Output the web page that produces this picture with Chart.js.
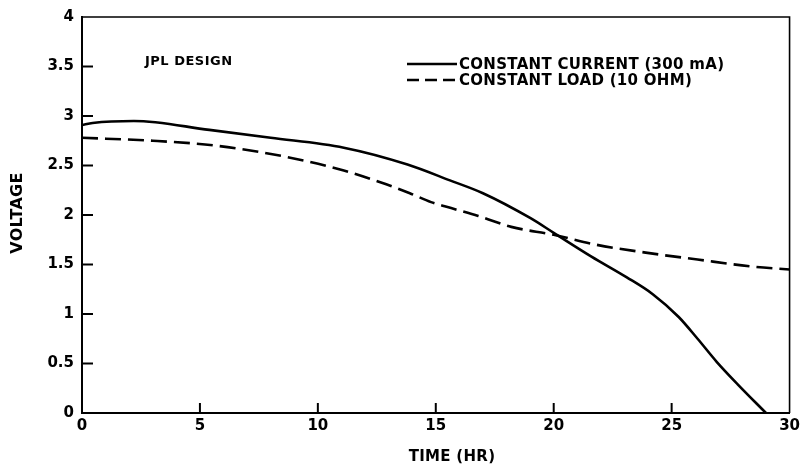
<!DOCTYPE html>
<html><head><meta charset="utf-8">
<script src="https://cdn.jsdelivr.net/npm/chart.js@4.4.0/dist/chart.umd.min.js"></script>
<style>html,body{margin:0;padding:0;background:#fff}#wrap{width:804px;height:464px}</style>
</head><body><div id="wrap"><canvas id="c" width="804" height="464"></canvas></div>
<script>
// ---- data ----
const timeCurrent = [0, 0.45, 2.2, 5.4, 8.0, 11.1, 13.8, 15.6, 17.0, 19.0, 20.0, 21.6, 23.1, 24.2, 25.3, 26.1, 26.9, 27.8, 29.0];
const voltCurrent = [2.91, 2.93, 2.95, 2.86, 2.78, 2.68, 2.51, 2.35, 2.22, 1.97, 1.82, 1.58, 1.37, 1.20, 0.97, 0.75, 0.52, 0.29, 0.00];
const timeLoad = [0, 3.0, 5.7, 8.6, 11.1, 12.9, 13.9, 14.8, 15.65, 16.8, 18.2, 20.0, 21.8, 23.9, 26.1, 28.4, 30];
const voltLoad = [2.78, 2.75, 2.70, 2.59, 2.45, 2.31, 2.22, 2.13, 2.07, 1.99, 1.88, 1.80, 1.70, 1.62, 1.55, 1.48, 1.45];
const xTickLabels = ['0', '5', '10', '15', '20', '25', '30'];
const yTickLabels = ['0', '0.5', '1', '1.5', '2', '2.5', '3', '3.5', '4'];
const seriesNames = ['CONSTANT CURRENT (300 mA)', 'CONSTANT LOAD (10 OHM)'];
const noteText = 'JPL DESIGN';
const xTitle = 'TIME (HR)';
const yTitle = 'VOLTAGE';

const FONT = '"DejaVu Sans", "Liberation Sans", Arial, sans-serif';
const pts = (xs, ys) => xs.map((v, i) => ({x: v, y: ys[i]}));

const decor = {
  id: 'decor',
  afterDraw(chart) {
    const {ctx, chartArea: a, scales: {x, y}} = chart;
    ctx.save();
    ctx.strokeStyle = '#000';
    ctx.fillStyle = '#000';
    // top and right frame
    ctx.lineWidth = 1.6;
    ctx.beginPath();
    ctx.moveTo(a.left, a.top); ctx.lineTo(a.right, a.top); ctx.lineTo(a.right, a.bottom);
    ctx.stroke();
    // inward tick marks
    ctx.lineWidth = 2;
    x.ticks.forEach(t => {
      if (t.value <= x.min || t.value >= x.max) return;
      const px = x.getPixelForValue(t.value);
      ctx.beginPath(); ctx.moveTo(px, a.bottom); ctx.lineTo(px, a.bottom - 10); ctx.stroke();
    });
    y.ticks.forEach(t => {
      if (t.value <= y.min || t.value >= y.max) return;
      const py = y.getPixelForValue(t.value);
      ctx.beginPath(); ctx.moveTo(a.left, py); ctx.lineTo(a.left + 11, py); ctx.stroke();
    });
    // note
    ctx.font = 'bold 13px ' + FONT;
    ctx.textBaseline = 'middle';
    ctx.textAlign = 'left';
    if ('letterSpacing' in ctx) ctx.letterSpacing = '0.5px';
    ctx.fillText(noteText, 145, 62);
    // legend
    ctx.font = 'bold 15px ' + FONT;
    if ('letterSpacing' in ctx) ctx.letterSpacing = '0.3px';
    chart.data.datasets.forEach((ds, i) => {
      const yy = 64 + i * 16;
      ctx.lineWidth = 2.5;
      ctx.setLineDash(ds.borderDash && ds.borderDash.length ? [12, 6] : []);
      ctx.beginPath(); ctx.moveTo(407, yy); ctx.lineTo(457, yy); ctx.stroke();
      ctx.setLineDash([]);
      ctx.fillText(ds.label, 459, yy + 1);
    });
    // axis titles
    ctx.font = 'bold 15px ' + FONT;
    if ('letterSpacing' in ctx) ctx.letterSpacing = '0.3px';
    ctx.textAlign = 'center';
    ctx.fillText(xTitle, 452, 457);
    ctx.save();
    ctx.translate(18, 213);
    ctx.rotate(-Math.PI / 2);
    ctx.font = 'bold 16px ' + FONT;
    ctx.fillText(yTitle, 0, 0);
    ctx.restore();
    ctx.restore();
  }
};

new Chart(document.getElementById('c'), {
  type: 'line',
  data: {
    datasets: [
      {label: seriesNames[0], data: pts(timeCurrent, voltCurrent), borderColor: '#000', borderWidth: 2.6,
       pointRadius: 0, cubicInterpolationMode: 'monotone', fill: false},
      {label: seriesNames[1], data: pts(timeLoad, voltLoad), borderColor: '#000', borderWidth: 2.6,
       borderDash: [16, 7], pointRadius: 0, cubicInterpolationMode: 'monotone', fill: false}
    ]
  },
  options: {
    responsive: false,
    animation: false,
    events: [],
    layout: {padding: {left: 0, top: 15, right: 14, bottom: 0}},
    plugins: {legend: {display: false}, tooltip: {enabled: false}, title: {display: false}},
    scales: {
      x: {
        type: 'linear', min: 0, max: 30,
        grid: {display: false, drawTicks: false},
        border: {display: true, color: '#000', width: 2},
        ticks: {stepSize: 5, padding: 4, color: '#000', font: {family: FONT, size: 15, weight: 'bold'},
                maxRotation: 0, callback: v => xTickLabels[Math.round(v / 5)]},
        afterFit: s => { s.height = 51; }
      },
      y: {
        type: 'linear', min: 0, max: 4,
        grid: {display: false, drawTicks: false},
        border: {display: true, color: '#000', width: 2},
        ticks: {stepSize: 0.5, padding: 8, color: '#000', font: {family: FONT, size: 15, weight: 'bold'},
                callback: v => yTickLabels[Math.round(v * 2)]},
        afterFit: s => { s.width = 82; }
      }
    }
  },
  plugins: [decor]
});
</script>
</body></html>
